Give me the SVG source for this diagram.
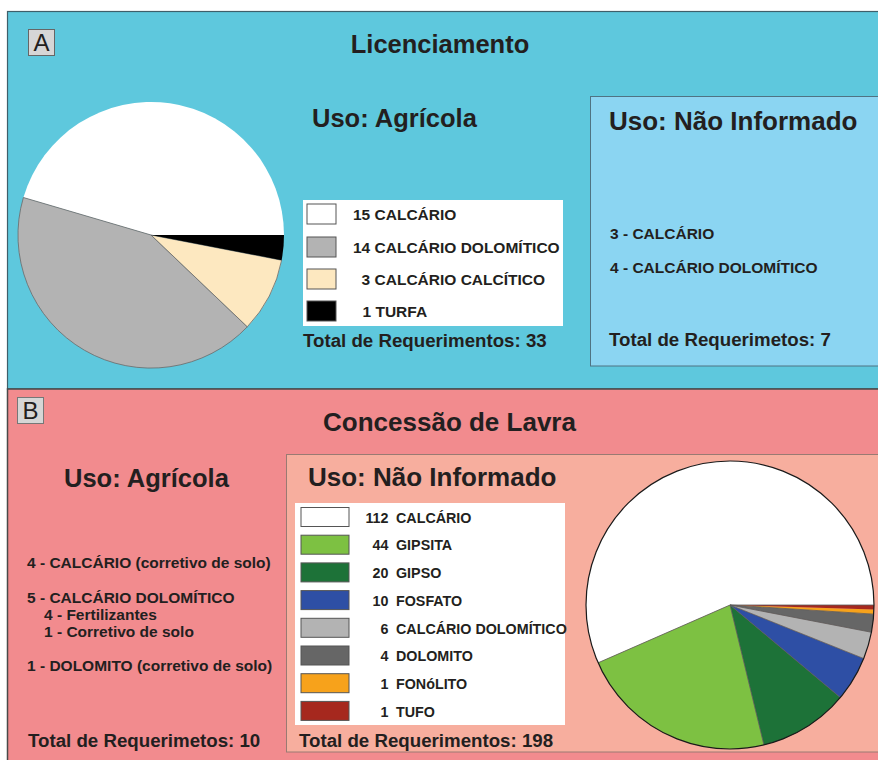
<svg xmlns="http://www.w3.org/2000/svg" width="878" height="760" viewBox="0 0 878 760">
<style>
text{font-family:"Liberation Sans",Arial,sans-serif;font-weight:bold;fill:#231f20}
.t26{font-size:26px}
.t25{font-size:25.5px}
.t19{font-size:18.7px}
.t15{font-size:15.5px}
.t14{font-size:14.3px}
.sw{stroke:#555;stroke-width:1}
.sep{stroke:#5a5a5a;stroke-width:0.8}
.lbl{font-family:"Liberation Sans",Arial,sans-serif;font-weight:normal;font-size:24px}
</style>
<rect x="0" y="0" width="878" height="760" fill="#ffffff"/>
<g id="panelA">
<rect x="7.5" y="11.5" width="880" height="377.5" fill="#5ec8dd" stroke="#3f5f6a" stroke-width="1.2"/>
<rect x="28.5" y="29.5" width="26" height="26" fill="#d6d6d6" stroke="#666" stroke-width="1"/>
<text x="41.5" y="51" text-anchor="middle" class="lbl">A</text>
<text x="440" y="53" text-anchor="middle" class="t25">Licenciamento</text>
<text x="312" y="127" class="t25">Uso: Agrícola</text>
</g>
<g id="pieA">
<path d="M151,235 L284,235 A133,133 0 0 0 23.4,197.5 Z" fill="#ffffff"/>
<path d="M151,235 L23.4,197.5 A133,133 0 0 0 247.3,326.8 Z" fill="#b3b3b3" stroke="#6a6a6a" stroke-width="0.8"/>
<path d="M151,235 L247.3,326.8 A133,133 0 0 0 281.6,260.2 Z" fill="#fde8c0" stroke="#6a6a6a" stroke-width="0.8"/>
<path d="M151,235 L281.6,260.2 A133,133 0 0 0 284,235 Z" fill="#000000"/>
</g>
<g id="legendA">
<rect x="303" y="200" width="260" height="126" fill="#ffffff"/>
<rect x="307" y="204" width="29" height="20" fill="#ffffff" class="sw"/>
<rect x="307" y="237" width="29" height="20" fill="#b3b3b3" class="sw"/>
<rect x="307" y="269" width="29" height="20" fill="#fde8c0" class="sw"/>
<rect x="307" y="301" width="29" height="20" fill="#000000" class="sw"/>
<text x="353" y="220" class="t15">15 CALCÁRIO</text>
<text x="353" y="252.5" class="t15">14 CALCÁRIO DOLOMÍTICO</text>
<text x="361.6" y="284.5" class="t15">3 CALCÁRIO CALCÍTICO</text>
<text x="362.5" y="316.5" class="t15">1 TURFA</text>
<text x="303" y="346.5" class="t19">Total de Requerimentos: 33</text>
</g>
<g id="boxA_naoInformado">
<rect x="590.5" y="96.5" width="300" height="269.5" fill="#8bd5f2" stroke="#4f7383" stroke-width="1"/>
<text x="609" y="130" class="t26">Uso: Não Informado</text>
<text x="610" y="239" class="t15">3 - CALCÁRIO</text>
<text x="610" y="273" class="t15">4 - CALCÁRIO DOLOMÍTICO</text>
<text x="609" y="346" class="t19">Total de Requerimetos: 7</text>
</g>
<g id="panelB">
<rect x="7.5" y="389" width="880" height="380" fill="#f28b8e" stroke="#4a4a4a" stroke-width="1.5"/>
<rect x="17.5" y="397.5" width="26" height="26" fill="#d6d6d6" stroke="#777" stroke-width="1"/>
<text x="30.5" y="419" text-anchor="middle" class="lbl">B</text>
<text x="449.5" y="431" text-anchor="middle" class="t26">Concessão de Lavra</text>
</g>
<g id="boxB_agricola">
<text x="64" y="487" class="t25">Uso: Agrícola</text>
<text x="27" y="568" class="t15">4 - CALCÁRIO (corretivo de solo)</text>
<text x="27" y="602.5" class="t15">5 - CALCÁRIO DOLOMÍTICO</text>
<text x="44" y="619.5" class="t15">4 - Fertilizantes</text>
<text x="44" y="636.5" class="t15">1 - Corretivo de solo</text>
<text x="27" y="671" class="t15">1 - DOLOMITO (corretivo de solo)</text>
<text x="28" y="747" class="t19">Total de Requerimetos: 10</text>
</g>
<g id="boxB_naoInformado">
<rect x="286.5" y="454.5" width="600" height="297.5" fill="#f7ae9e" stroke="#9a7a72" stroke-width="1"/>
<text x="308" y="486" class="t26">Uso: Não Informado</text>
</g>
<g id="legendB">
<rect x="295" y="503" width="270" height="222" fill="#ffffff"/>
<rect x="301" y="507.5" width="48" height="19" fill="#ffffff" class="sw"/>
<rect x="301" y="535.2" width="48" height="19" fill="#7dc142" class="sw"/>
<rect x="301" y="562.9" width="48" height="19" fill="#1d7238" class="sw"/>
<rect x="301" y="590.6" width="48" height="19" fill="#2e4fa5" class="sw"/>
<rect x="301" y="618.3" width="48" height="19" fill="#b3b3b3" class="sw"/>
<rect x="301" y="646" width="48" height="19" fill="#666666" class="sw"/>
<rect x="301" y="673.7" width="48" height="19" fill="#f7a21b" class="sw"/>
<rect x="301" y="701.4" width="48" height="19" fill="#a6281e" class="sw"/>
<g class="t14">
<text x="388.5" y="522.7" text-anchor="end">112</text><text x="396" y="522.7">CALCÁRIO</text>
<text x="388.5" y="550.4" text-anchor="end">44</text><text x="396" y="550.4">GIPSITA</text>
<text x="388.5" y="578.1" text-anchor="end">20</text><text x="396" y="578.1">GIPSO</text>
<text x="388.5" y="605.8" text-anchor="end">10</text><text x="396" y="605.8">FOSFATO</text>
<text x="388.5" y="633.5" text-anchor="end">6</text><text x="396" y="633.5">CALCÁRIO DOLOMÍTICO</text>
<text x="388.5" y="661.2" text-anchor="end">4</text><text x="396" y="661.2">DOLOMITO</text>
<text x="388.5" y="688.9" text-anchor="end">1</text><text x="396" y="688.9">FONóLITO</text>
<text x="388.5" y="716.6" text-anchor="end">1</text><text x="396" y="716.6">TUFO</text>
</g>
<text x="299" y="747" class="t19">Total de Requerimentos: 198</text>
</g>
<g id="pieB">
<path d="M730,605 L874,605 A144,144 0 1 0 598.11,662.8 Z" fill="#ffffff"/>
<path d="M730,605 L598.11,662.8 A144,144 0 0 0 763.95,744.94 Z" fill="#7dc142"/>
<path d="M730,605 L763.95,744.94 A144,144 0 0 0 840.31,697.56 Z" fill="#1d7238"/>
<path d="M730,605 L840.31,697.56 A144,144 0 0 0 863.68,658.52 Z" fill="#2e4fa5"/>
<path d="M730,605 L863.68,658.52 A144,144 0 0 0 871.4,632.25 Z" fill="#b3b3b3"/>
<path d="M730,605 L871.4,632.25 A144,144 0 0 0 873.71,614.13 Z" fill="#666666"/>
<path d="M730,605 L873.71,614.13 A144,144 0 0 0 873.93,609.57 Z" fill="#f7a21b"/>
<path d="M730,605 L873.93,609.57 A144,144 0 0 0 874,605 Z" fill="#a6281e"/>
<g class="sep">
<line x1="730" y1="605" x2="874" y2="605"/>
<line x1="730" y1="605" x2="598.11" y2="662.8"/>
<line x1="730" y1="605" x2="763.95" y2="744.94"/>
<line x1="730" y1="605" x2="840.31" y2="697.56"/>
<line x1="730" y1="605" x2="863.68" y2="658.52"/>
<line x1="730" y1="605" x2="871.4" y2="632.25"/>
<line x1="730" y1="605" x2="873.71" y2="614.13"/>
</g>
<circle cx="730" cy="605" r="144" fill="none" stroke="#1a1a1a" stroke-width="1.2"/>
</g>
</svg>
